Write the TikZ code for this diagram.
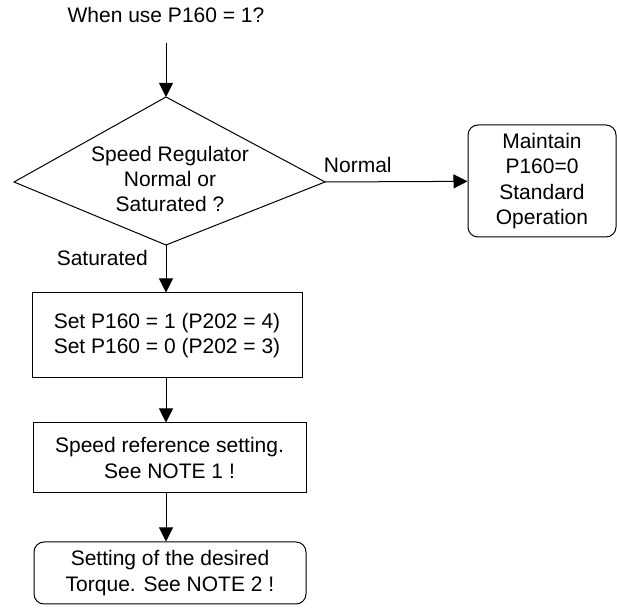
\documentclass[tikz,border=0pt]{standalone}
\usepackage{fontspec}
\setmainfont{Liberation Sans}
\usetikzlibrary{arrows.meta}

\begin{document}
\begin{tikzpicture}[x=0.5pt, y=-0.5pt, line width=0.5pt,
  every node/.style={font=\fontsize{10.5}{12.6}\selectfont, align=center},
  flowbox/.style={draw, inner sep=0pt},
  roundbox/.style={flowbox, rounded corners=5pt},
  flow/.style={-{Triangle[length=7pt,width=7pt]}}]
  \useasboundingbox (0,0) rectangle (617,609);

  \node (ask) at (166,15) {When use P160 = 1?};

  % decision
  \coordinate (dtop) at (166,97);
  \coordinate (dright) at (325,182);
  \coordinate (dbot) at (166,245);
  \coordinate (dleft) at (14,182);
  \draw (dtop) -- (dright) -- (dbot) -- (dleft) -- cycle;
  \node (speed) at (170,179) {Speed Regulator\\Normal or\\Saturated ?};

  \node[roundbox, minimum width=74pt, minimum height=56pt] (keep) at (542,181) {Maintain\\P160=0\\Standard\\Operation};
  \node[flowbox, minimum width=135pt, minimum height=42.5pt] (setp) at (167,335.5) {Set P160 = 1 (P202 = 4)\\Set P160 = 0 (P202 = 3)};
  \node[flowbox, minimum width=136.5pt, minimum height=35pt] (ref) at (169.5,458) {Speed reference setting.\\See NOTE 1 !};
  \node[roundbox, minimum width=136pt, minimum height=31pt] (torque) at (170,573) {Setting of the desired\\Torque. See NOTE 2 !};

  \draw[flow, shorten <=6.5pt] (ask) -- (dtop);
  \draw[flow] (dright) -- node[pos=0.23, above=1pt] {Normal} (keep);
  \draw[flow] (dbot) -- node[pos=0.27, left=5.5pt] {Saturated} (dbot |- setp.north);
  \draw[flow] (setp.south -| dbot) -- (dbot |- ref.north);
  \draw[flow] (ref.south -| dbot) -- (dbot |- torque.north);
\end{tikzpicture}
\end{document}
